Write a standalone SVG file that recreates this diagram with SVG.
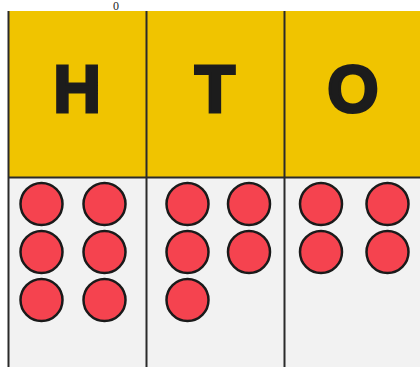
<svg xmlns="http://www.w3.org/2000/svg" width="420" height="367" viewBox="0 0 420 367">
<style>
.head{fill:#F0C400}
.body{fill:#F2F2F2}
.line{stroke:#2a2a2a;stroke-width:2;fill:none}
.lbl{font-family:"Liberation Sans",Arial,sans-serif;font-weight:900;font-size:66px;fill:#1c1c1c;stroke:#1c1c1c;stroke-width:3;stroke-linejoin:miter;text-anchor:middle}
.dot{fill:#F5434F;stroke:#1a1a1a;stroke-width:2.5}
.top{font-family:"Liberation Serif",serif;font-size:12px;fill:#222;text-anchor:middle}
</style>
<rect x="0" y="0" width="420" height="367" fill="#ffffff"/>
<text class="top" x="116" y="10">0</text>
<g id="col-H">
<rect class="head" x="8" y="11" width="138" height="167"/>
<rect class="body" x="8" y="178" width="138" height="189"/>
<text class="lbl" x="77" y="112">H</text>
<circle class="dot" cx="41.5" cy="204" r="21"/>
<circle class="dot" cx="104.5" cy="204" r="21"/>
<circle class="dot" cx="41.5" cy="252" r="21"/>
<circle class="dot" cx="104.5" cy="252" r="21"/>
<circle class="dot" cx="41.5" cy="300" r="21"/>
<circle class="dot" cx="104.5" cy="300" r="21"/>
</g>
<g id="col-T">
<rect class="head" x="146" y="11" width="138" height="167"/>
<rect class="body" x="146" y="178" width="138" height="189"/>
<text class="lbl" x="215" y="112">T</text>
<circle class="dot" cx="187.5" cy="204" r="21"/>
<circle class="dot" cx="249" cy="204" r="21"/>
<circle class="dot" cx="187.5" cy="252" r="21"/>
<circle class="dot" cx="249" cy="252" r="21"/>
<circle class="dot" cx="187.5" cy="300" r="21"/>
</g>
<g id="col-O">
<rect class="head" x="284" y="11" width="138" height="167"/>
<rect class="body" x="284" y="178" width="138" height="189"/>
<text class="lbl" x="353" y="112">O</text>
<circle class="dot" cx="321" cy="204" r="21"/>
<circle class="dot" cx="387.5" cy="204" r="21"/>
<circle class="dot" cx="321" cy="252" r="21"/>
<circle class="dot" cx="387.5" cy="252" r="21"/>
</g>
<g id="grid-lines">
<line class="line" x1="8.5" y1="11" x2="8.5" y2="367"/>
<line class="line" x1="146.5" y1="11" x2="146.5" y2="367"/>
<line class="line" x1="284.5" y1="11" x2="284.5" y2="367"/>
<line class="line" x1="8" y1="177.5" x2="420" y2="177.5"/>
</g>
</svg>
